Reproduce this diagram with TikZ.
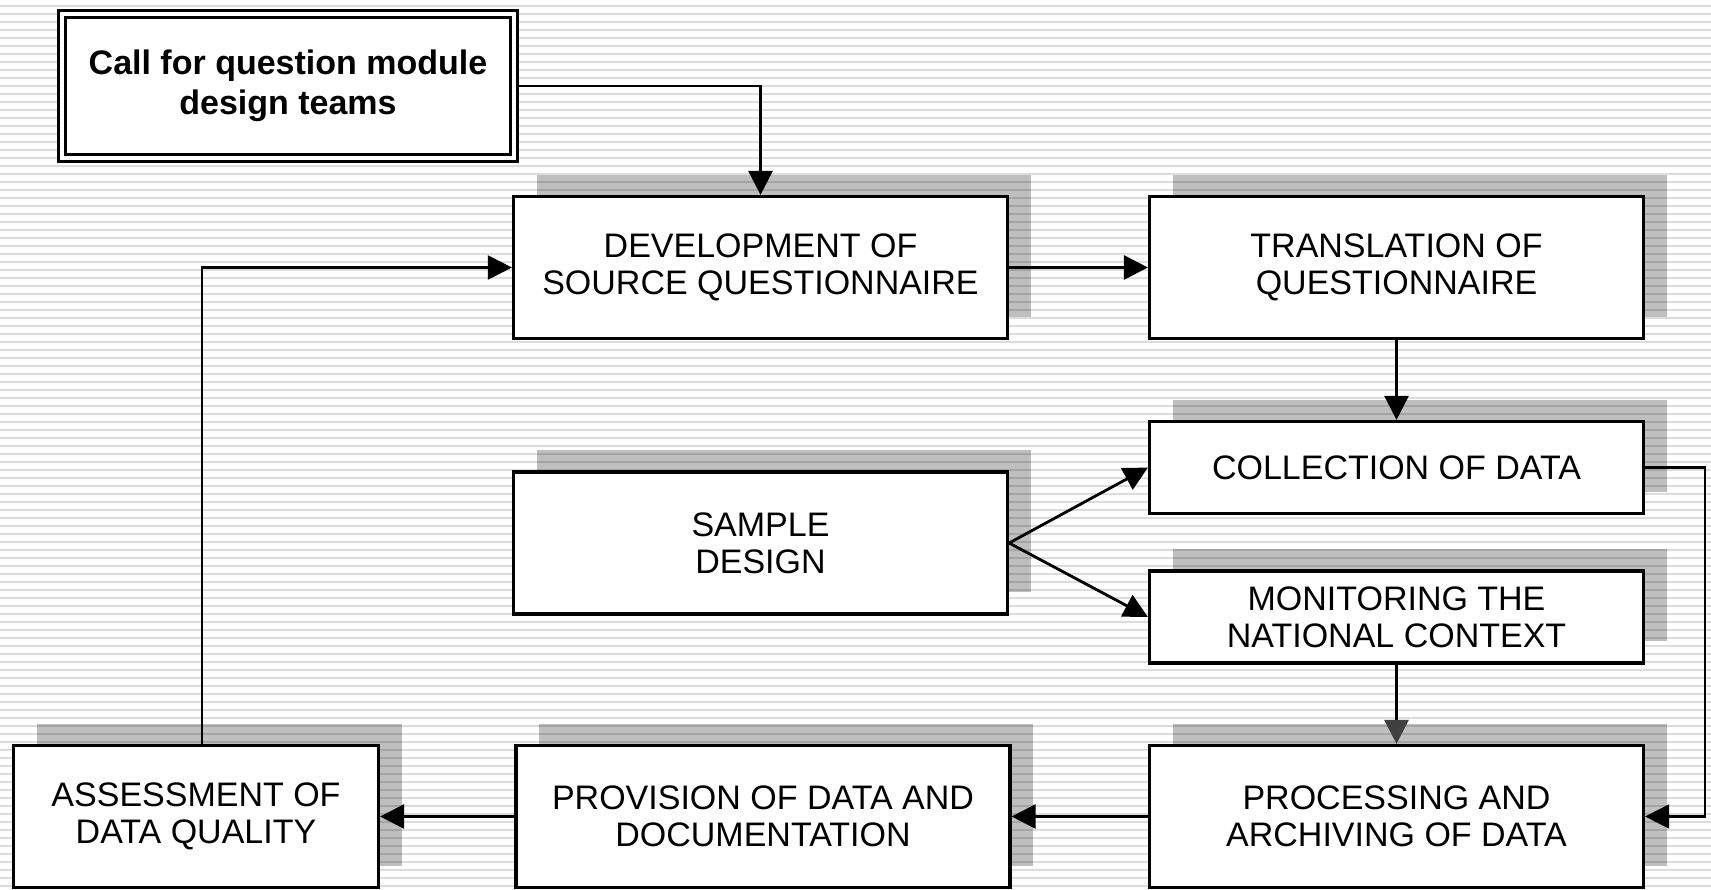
\documentclass[tikz,border=0pt]{standalone}
\usepackage{fontspec}
\setmainfont{Liberation Sans}
\usetikzlibrary{arrows.meta,shadows}

\definecolor{stripe}{RGB}{220,220,220}
\tikzstyle{stage}=[draw,line width=1.6pt,fill=white,align=center,inner sep=0pt,
  minimum width=247pt,minimum height=71pt,
  general shadow={fill=black,fill opacity=.25,shadow xshift=11.5pt,shadow yshift=11pt}]
\tikzstyle{small stage}=[stage,minimum height=46pt]
\tikzstyle{call stage}=[draw,line width=1.8pt,double,double distance=1.8pt,fill=white,
  align=center,minimum width=226pt,minimum height=72pt,
  font=\fontsize{17}{20}\selectfont\bfseries]
\tikzstyle{edge}=[draw,line width=1.4pt,-{Triangle[length=12pt,width=12pt]}]
\tikzstyle{thin edge}=[edge,line width=1.1pt]
\tikzstyle{grey edge}=[edge,-{Triangle[length=12pt,width=12pt,color=black!75]}]

\begin{document}
\begin{tikzpicture}[x=0.5pt,y=-0.5pt,font=\fontsize{17}{18.5}\selectfont]
     \useasboundingbox (0,0) rectangle (1711,889);
     % ruled background
     \foreach \y in {6,14,...,886}
     \fill[stripe] (0,\y-1) rectangle (1711,\y+1);

     % the stages of the survey cycle
     \node[call stage] (call) at (288,86) {Call for question module\\design teams};

     \foreach \pos/\name/\text in {{(760.5,267.5)/dev/{DEVELOPMENT OF\\SOURCE QUESTIONNAIRE}},
       {(1396.5,267.5)/trans/{TRANSLATION OF\\QUESTIONNAIRE}},
       {(760.5,543)/sample/{SAMPLE\\DESIGN}},
       {(1396.5,816.5)/proc/{PROCESSING AND\\ARCHIVING OF DATA}},
       {(763,816.5)/prov/{PROVISION OF DATA AND\\DOCUMENTATION}}}
     \node[stage] (\name) at \pos {\text};

     \foreach \pos/\name/\text in {{(1396.5,467.5)/coll/{COLLECTION OF DATA}},
       {(1396.5,617)/mon/{MONITORING THE\\NATIONAL CONTEXT}}}
     \node[small stage] (\name) at \pos {\text};

     \node[stage,minimum width=182.5pt] (assess) at (196,816.5) {ASSESSMENT OF\\DATA QUALITY};

     % connect the stages
     \path[edge] (call.east) -| (dev.north);
     \path[thin edge] ([xshift=3pt]assess.north) |- (dev.west);

     \foreach \source/\dest in {dev/trans, trans/coll, proc/prov, prov/assess}
     \path[edge] (\source) -- (\dest);

     \foreach \dest in {coll, mon}
     \path[edge] (sample.east) -- (\dest.west);

     \path[grey edge] (mon) -- (proc);
     \path[thin edge] (coll.east) -- ++(60,0) |- (proc.east);
\end{tikzpicture}
\end{document}
